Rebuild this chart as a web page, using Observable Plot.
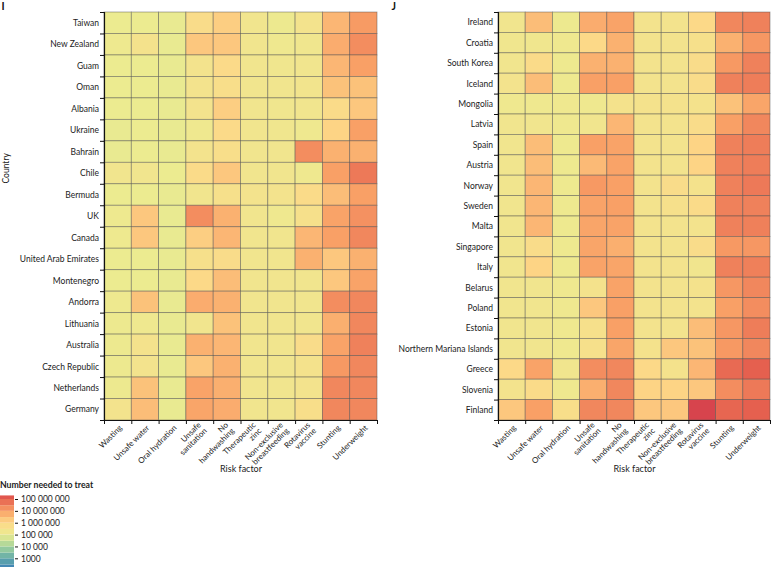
<!DOCTYPE html>
<html><head><meta charset="utf-8">
<script src="https://cdn.jsdelivr.net/npm/d3@7"></script>
<script src="https://cdn.jsdelivr.net/npm/@observablehq/plot@0.6"></script>
<style>
body{margin:0;background:#fff;}
#wrap{position:relative;width:771px;height:567px;overflow:hidden;font-family:Lato,sans-serif;color:#222;}
.abs{position:absolute;}
#ltitle{font-weight:bold;font-size:8.7px;left:0;top:479px;white-space:nowrap;}
</style></head><body><div id="wrap">
<div id="pI" class="abs" style="left:0;top:0"></div>
<div id="pJ" class="abs" style="left:390px;top:0"></div>
<div id="ltitle" class="abs">Number needed to treat</div>
<div id="leg" class="abs" style="left:0;top:490px"></div>
</div>
<script>
const riskFactors = ["Wasting","Unsafe water","Oral hydration","Unsafe\nsanitation","No\nhandwashing","Therapeutic\nzinc","Non-exclusive\nbreastfeeding","Rotavirus\nvaccine","Stunting","Underweight"];

const countriesI = ["Taiwan","New Zealand","Guam","Oman","Albania","Ukraine","Bahrain","Chile","Bermuda","UK","Canada","United Arab Emirates","Montenegro","Andorra","Lithuania","Australia","Czech Republic","Netherlands","Germany"];
// columns follow riskFactors order
const nntI = [
  [1e5,1e5,9e4,6e5,1.5e6,2e5,1.2e5,2.5e5,4e6,1.2e7],
  [1.3e5,3e5,9e4,2e6,2e6,2e5,1.5e5,1.8e5,6e6,2e7],
  [1e5,1e5,9e4,2.5e5,8e5,2e5,1.8e5,2e5,4e6,1e7],
  [1e5,1e5,9e4,2.5e5,5e5,2e5,2e5,2.2e5,2.5e6,2.5e6],
  [1e5,1e5,9e4,2.5e5,1.5e6,2e5,1.8e5,2e5,7e5,2e6],
  [9e4,1e5,9e4,1.5e5,8e5,2e5,1.8e5,1.5e5,1.2e6,1e7],
  [9e4,1e5,9e4,2.5e5,5e5,2e5,2e5,2e7,5e6,5e6],
  [2e5,2e5,1e5,7e5,2e6,2e5,2e5,1.5e5,1e7,4e7],
  [1e5,1e5,9e4,2e5,4e5,2.5e5,2.5e5,7e5,3e6,1e7],
  [1.3e5,2e6,9e4,2e7,5e6,2e5,1.5e5,4e5,9e6,1.7e7],
  [1.3e5,2e6,9e4,1.5e6,4e6,2e5,2e5,4e6,1e7,2.5e7],
  [1e5,1e5,9e4,4e5,6e5,2e5,2e5,5e6,2e6,5e6],
  [1e5,1e5,9e4,9e5,3e6,2e5,2e5,2e5,2e6,9e6],
  [1.3e5,2.5e6,9e4,6e6,5e6,2e5,2e5,2e5,2e7,2.5e7],
  [1.2e5,1.5e5,9e4,2e5,2.5e6,2e5,2e5,2e5,5.5e6,2.5e7],
  [1.2e5,3e5,9e4,5e6,4e6,2e5,2e5,6e5,9e6,3e7],
  [1.2e5,2.5e5,9e4,2e6,5e6,2e5,2e5,3e5,1.3e7,2.5e7],
  [1.2e5,2.5e6,9e4,9e6,5.5e6,2e5,2e5,2.5e5,2.5e7,2.5e7],
  [2.5e5,3e6,9e4,8e6,6e6,2e5,2e5,5e5,2.5e7,2.5e7]
];

const countriesJ = ["Ireland","Croatia","South Korea","Iceland","Mongolia","Latvia","Spain","Austria","Norway","Sweden","Malta","Singapore","Italy","Belarus","Poland","Estonia","Northern Mariana Islands","Greece","Slovenia","Finland"];
const nntJ = [
  [2e5,3e6,1.2e5,6e6,9e6,2.5e5,2.5e5,9e5,2.5e7,3e7],
  [1.8e5,1.8e5,1.5e5,9e5,5e6,2.5e5,2.5e5,4e5,5e6,1.4e7],
  [2e5,7e5,1.3e5,5e6,5e6,2.5e5,2.5e5,6e5,1.3e7,3e7],
  [2.5e5,3e6,1.3e5,1e7,1e7,2.5e5,2.5e5,6e5,3e7,3.5e7],
  [1.5e5,1.5e5,1.5e5,1.5e5,3e5,3e5,3e5,3e5,2.5e6,8e6],
  [2e5,2e5,1.5e5,2e5,4e6,2.5e5,2.5e5,6e5,1e7,2.5e7],
  [2e5,3e6,1.3e5,1e7,9e6,2.5e5,2.5e5,1.2e6,3e7,3.5e7],
  [2e5,3e6,1.3e5,3.5e6,9e6,2.5e5,2.5e5,1.2e6,3e7,3.5e7],
  [2e5,4e6,1.3e5,1.3e7,1e7,2.5e5,6e5,3e5,3e7,4e7],
  [2e5,4e6,1.3e5,9e6,1e7,2.5e5,4e5,7e5,3e7,3e7],
  [2e5,4e6,1.3e5,8e6,9e6,2.5e5,2.5e5,2.5e5,3e7,3.2e7],
  [2e5,6e5,1.3e5,8e6,5.5e6,2.5e5,2.5e5,6e5,1.3e7,1.4e7],
  [2e5,1.2e6,1.3e5,9e6,8e6,2.5e5,2.5e5,2e5,3e7,3.2e7],
  [2e5,2e5,1.5e5,3e5,9e6,2.5e5,2.5e5,3e5,1.4e7,2.5e7],
  [2e5,2e5,1.5e5,2e6,1e7,2.5e5,2.5e5,2.5e5,1e7,2e7],
  [2e5,2e5,1.5e5,4e5,1e7,2.5e5,2.5e5,3e6,1.4e7,3.5e7],
  [2e5,2e5,1.5e5,4e5,8e6,3e5,2e6,2.5e6,1.3e7,2.5e7],
  [9e5,9e6,2e5,2e7,2.5e7,9e5,3e5,4e6,7e7,1e8],
  [2.5e5,7e5,1.5e5,5.5e6,2.5e7,1.2e6,1.2e6,2e6,2e7,4e7],
  [2e6,1e7,5e5,2.5e7,2.5e7,2e6,2e6,3e8,8e7,1e8]
];

const legendTicks = [1e3,1e4,1e5,1e6,1e7,1e8];
const legendBandEdges = [1e2,3e2,1e3,3e3,1e4,3e4,1e5,3e5,1e6,3e6,1e7,3e7,1e8,2e8];
const colorStops = [1e2,1e3,1e4,1e5,1e6,1e7,1e8,1e9];
const colorRange = ["#3a7db8","#62aaa9","#a5d49b","#eceb90","#fdd888","#f9a066","#e5604f","#c8264a"];

const colorScale = {type:"log", domain: colorStops, range: colorRange};
const FONT = "Lato, sans-serif";

function cellsOf(countries, nnt) {
  return countries.flatMap((c,i) => nnt[i].map((v,j) => ({country:c, row:i, factor:riskFactors[j], col:j, v})));
}

function panel({countries, nnt, letter, width, marginLeft, marginRight, countryLabel}) {
  const n = countries.length;
  const cells = cellsOf(countries, nnt);
  const marks = [
    Plot.rect(cells, {x1:"col", x2:d=>d.col+1, y1:"row", y2:d=>d.row+1, fill:"v", stroke:"#4d4d4d", strokeOpacity:0.55, strokeWidth:0.8}),
    Plot.ruleX([0], {stroke:"#111", strokeWidth:1.2}),
    Plot.ruleY([n], {stroke:"#111", strokeWidth:1.2}),
    Plot.axisY({ticks:d3.range(n+1), tickSize:4, tickFormat:()=>"", label:null, stroke:"#111"}),
    Plot.axisX({ticks:d3.range(riskFactors.length+1), tickSize:4, tickFormat:()=>"", label:null, stroke:"#111"}),
    Plot.text(countries, {y:(d,i)=>i+0.5, text:d=>d, frameAnchor:"left", textAnchor:"end", dx:-5.5, fontSize:8.5, fill:"#222"}),
    Plot.text(riskFactors, {x:(d,i)=>i+0.5, text:d=>d, frameAnchor:"bottom", textAnchor:"end", lineAnchor:"middle", rotate:-45, dx:2.5, dy:6, fontSize:8, lineHeight:1.05, fill:"#222"}),
    Plot.text(["Risk factor"], {text:d=>d, frameAnchor:"bottom", dy:51, fontSize:9, fill:"#222"}),
    Plot.text([letter], {text:d=>d, frameAnchor:"top-left", textAnchor:"start", lineAnchor:"top", dx:-marginLeft+1, dy:-9.5, fontSize:10.5, fontWeight:"bold", fill:"#111"})
  ];
  if (countryLabel) marks.push(Plot.text(["Country"], {text:d=>d, frameAnchor:"left", dx:-98, dy:-33, rotate:-90, fontSize:8.5, fill:"#222"}));
  return Plot.plot({
    width, height:480, marginLeft, marginRight, marginTop:12, marginBottom:60,
    style:{fontFamily:FONT, fontSize:"8.5px", background:"transparent", overflow:"visible"},
    x:{domain:[0, riskFactors.length]},
    y:{domain:[0, n], reverse:true},
    color: colorScale,
    marks
  });
}

document.getElementById("pI").append(panel({countries:countriesI, nnt:nntI, letter:"I", width:390, marginLeft:104, marginRight:13, countryLabel:true}));
document.getElementById("pJ").append(panel({countries:countriesJ, nnt:nntJ, letter:"J", width:381, marginLeft:108, marginRight:1, countryLabel:false}));

const fmt = v => v >= 10000 ? d3.format(",")(v).replace(/,/g, " ") : String(v);
const bands = legendBandEdges.slice(0,-1).map((lo,i) => ({lo, hi:legendBandEdges[i+1]}));
document.getElementById("leg").append(Plot.plot({
  width:130, height:77, marginLeft:0, marginRight:116, marginTop:0, marginBottom:0,
  style:{fontFamily:FONT, fontSize:"8.5px", background:"transparent"},
  y:{type:"log", domain:[1e3,1e8], range:[68.3, 9]},
  color: colorScale,
  marks:[
    Plot.rect(bands, {y1:"lo", y2:"hi", fill:d=>Math.sqrt(d.lo*d.hi)}),
    Plot.axisY({anchor:"right", ticks:legendTicks, tickSize:3, tickPadding:3.5, tickFormat:fmt, fontSize:8.5, label:null, stroke:"#111", fill:"#222"})
  ]
}));
</script></body></html>
